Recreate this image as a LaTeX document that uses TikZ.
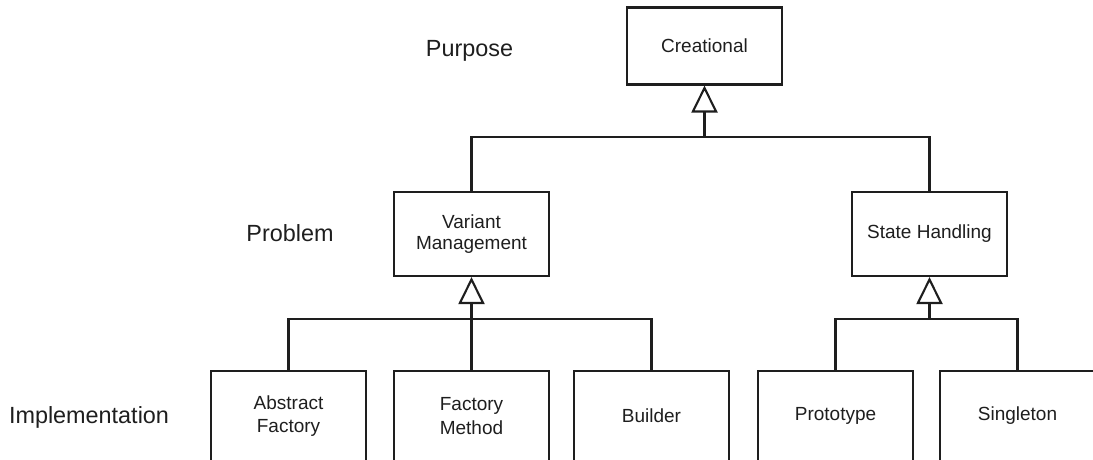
\documentclass[tikz,border=0pt]{standalone}
\usepackage{fontspec}
\setmainfont{Liberation Sans}
\usetikzlibrary{arrows.meta}
\definecolor{ink}{HTML}{1E1E1E}
\begin{document}
\begin{tikzpicture}[x=1pt,y=-1pt,
  box/.style={draw=ink, line width=2.1pt, minimum width=155pt, inner sep=0pt,
    align=center, text=ink, font=\fontsize{19}{21}\selectfont},
  upbox/.style={box, minimum height=84pt},
  lowbox/.style={box, minimum height=90pt, font=\fontsize{19}{23.5}\selectfont},
  level/.style={text=ink, font=\fontsize{23.4}{28}\selectfont},
  link/.style={draw=ink, line width=2.1pt},
  genarrow/.style={link, -{Triangle[open, width=26pt, length=27pt, line width=2.1pt]}}]
  \useasboundingbox (0,0) rectangle (1093,459);
  \clip (0,0) rectangle (1093,459);

  % level captions
  \node[level] (lpur) at (469.5,51) {Purpose};
  \node[level] (lpro) at (290,233) {Problem};
  \node[level] (limp) at (89,417) {Implementation};

  % class boxes
  \node[upbox, minimum height=77pt] (cr) at (704.5,46) {Creational};
  \node[upbox] (va) at (471.5,234) {Variant\\Management};
  \node[upbox] (st) at (929.5,234) {State Handling};
  \node[lowbox] (af) at (288.5,416) {Abstract\\Factory};
  \node[lowbox] (fm) at (471.5,416) {Factory\\Method};
  \node[lowbox] (bu) at (651.5,416) {Builder};
  \node[lowbox] (pr) at (835.5,416) {Prototype};
  \node[lowbox] (si) at (1017.5,416) {Singleton};

  % junction points of the generalisation trees
  \coordinate (j1) at (704.5,137);
  \coordinate (j2) at (471.5,319);
  \coordinate (j3) at (929.5,319);

  % Creational
  \draw[link] (va.north) |- (j1) -| (st.north);
  \draw[genarrow] (j1) -- (cr.south);
  % Variant Management
  \draw[link] (af.north) |- (j2) -| (bu.north);
  \draw[link] (fm.north) -- (j2);
  \draw[genarrow] (j2) -- (va.south);
  % State Handling
  \draw[link] (pr.north) |- (j3) -| (si.north);
  \draw[genarrow] (j3) -- (st.south);
\end{tikzpicture}
\end{document}
